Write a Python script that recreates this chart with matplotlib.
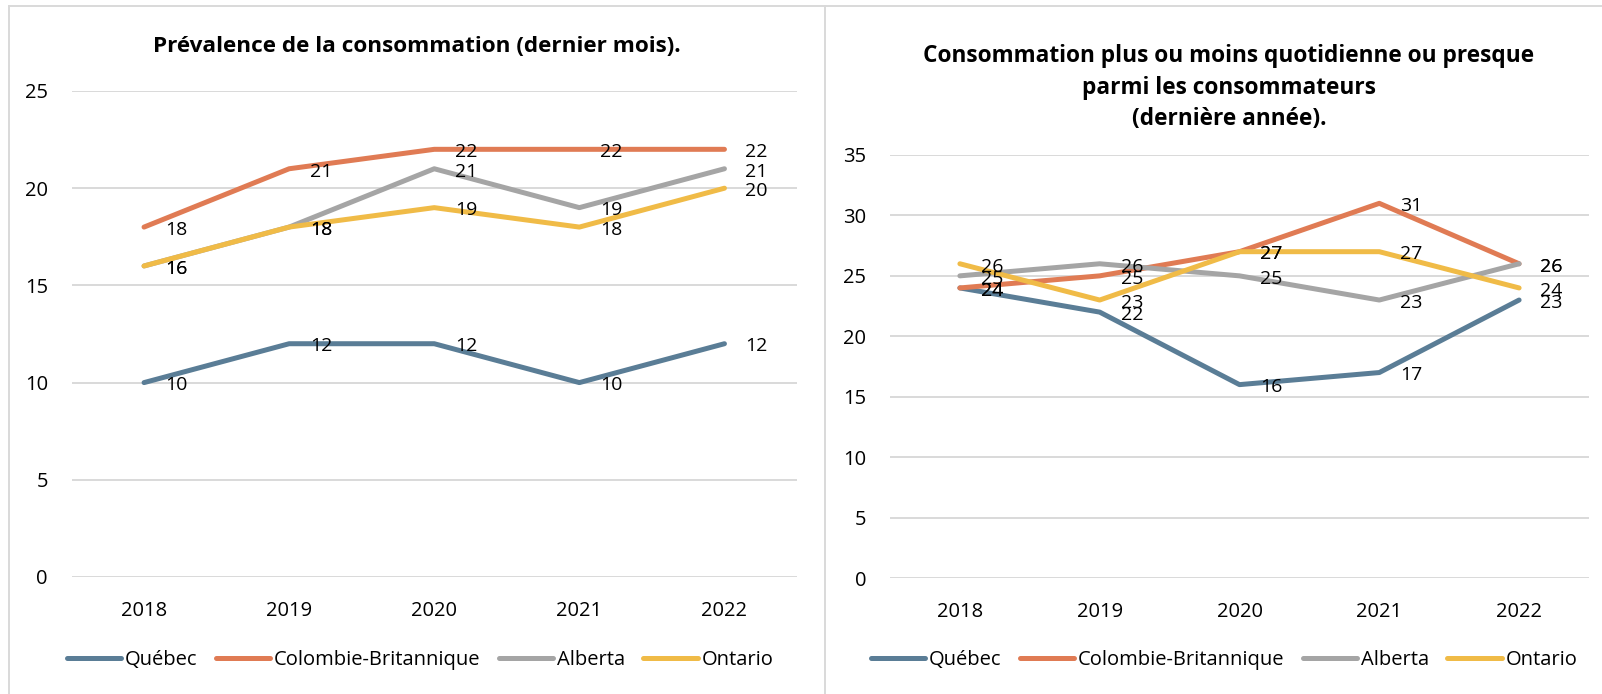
import matplotlib.pyplot as plt
from matplotlib.lines import Line2D

plt.rcParams['font.family'] = ['Open Sans', 'DejaVu Sans']

years = ["2018", "2019", "2020", "2021", "2022"]
provinces = ["Québec", "Colombie-Britannique", "Alberta", "Ontario"]
colors = ["#5A7D96", "#E07B54", "#A5A5A5", "#F0BB47"]

# prévalence dernier mois
month_qc = [10, 12, 12, 10, 12]
month_cb = [18, 21, 22, 22, 22]
month_ab = [16, 18, 21, 19, 21]
month_on = [16, 18, 19, 18, 20]

# quotidienne parmi les consommateurs
daily_qc = [24, 22, 16, 17, 23]
daily_cb = [24, 25, 27, 31, 26]
daily_ab = [25, 26, 25, 23, 26]
daily_on = [26, 23, 27, 27, 24]

W, H = 1602, 694
fig = plt.figure(figsize=(W / 100, H / 100), dpi=100)
fig.patch.set_facecolor("white")


def px_axes(x0, x1, ytop, ybot):
    return fig.add_axes([x0 / W, 1 - ybot / H, (x1 - x0) / W, (ybot - ytop) / H])


def draw(ax, series, ymax):
    x = list(range(len(years)))
    for vals, col in zip(series, colors):
        ax.plot(x, vals, color=col, lw=3.6, solid_joinstyle="round",
                solid_capstyle="round", zorder=3)
        for xi, v in zip(x, vals):
            ax.annotate(str(v), (xi, v), xytext=(15, -2), textcoords="offset points",
                        ha="left", va="center", fontsize=14, color="#000000", zorder=4)
    ax.set_xlim(-0.5, len(years) - 0.5)
    ax.set_ylim(0, ymax)
    ax.set_yticks(range(0, ymax + 1, 5))
    ax.set_xticks(x)
    ax.set_xticklabels(years)
    ax.grid(axis="y", color="#D9D9D9", lw=1.4, zorder=0)
    for s in ax.spines.values():
        s.set_visible(False)
    ax.tick_params(length=0, labelsize=14.5, colors="#000000")
    ax.tick_params(axis="y", pad=17)
    ax.tick_params(axis="x", pad=17)
    ax.set_facecolor("none")


ax1 = px_axes(71.5, 797, 91, 577)
draw(ax1, [month_qc, month_cb, month_ab, month_on], 25)

ax2 = px_axes(890, 1589, 155, 578)
draw(ax2, [daily_qc, daily_cb, daily_ab, daily_on], 35)

fig.text(417 / W, 1 - 52 / H, "Prévalence de la consommation (dernier mois).",
         ha="center", va="baseline", fontsize=16.2, fontweight="bold")
title2 = ["Consommation plus ou moins quotidienne ou presque",
          "parmi les consommateurs", "(dernière année)."]
for i, t in enumerate(title2):
    fig.text(1229 / W, 1 - (62 + 31.7 * i) / H, t, ha="center", va="baseline",
             fontsize=16.3, fontweight="bold")

handles = [Line2D([0], [0], color=c, lw=3.6, solid_capstyle="round") for c in colors]
for cx in (420, 1224):
    fig.legend(handles, provinces, loc="center", bbox_to_anchor=(cx / W, 1 - 660 / H),
               ncol=4, frameon=False, fontsize=14.5, handlelength=2.7,
               handletextpad=0.2, columnspacing=0.9, borderpad=0)

# panel borders
border = "#D9D9D9"
fig.add_artist(Line2D([8.7 / W, 1], [1 - 6 / H, 1 - 6 / H], color=border, lw=1.4))
fig.add_artist(Line2D([8.7 / W, 8.7 / W], [0, 1 - 6 / H], color=border, lw=1.4))
fig.add_artist(Line2D([825 / W, 825 / W], [0, 1 - 6 / H], color=border, lw=1.4))

fig.savefig("out.png", dpi=100)
